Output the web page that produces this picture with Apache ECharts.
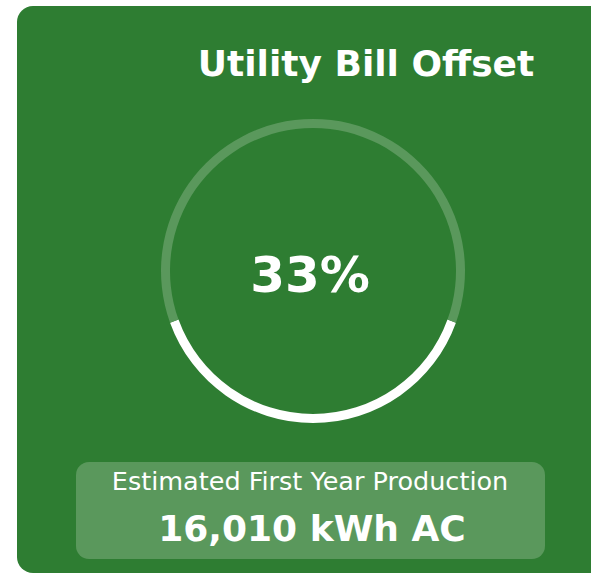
<!DOCTYPE html>
<html>
<head>
<meta charset="utf-8">
<script src="https://cdn.jsdelivr.net/npm/echarts@6/dist/echarts.min.js"></script>
<style>
html, body {
  margin: 0;
  padding: 0;
  background: #fff;
}
#chart {
  width: 591px;
  height: 574px;
}
</style>
</head>
<body>
<div id="chart"></div>
<script>
// data
var titleText = 'Utility Bill Offset'
var offsetPercent = [33]
var productionLabel = 'Estimated First Year Production'
var productionValue = [16010]
var productionUnit = 'kWh AC'

var green = '#2e7d32'
var light = '#5a985c'

var p = offsetPercent[0] / 100
// fill level: arc covers the part of the ring below p of its height
var halfArc = Math.acos(1 - 2 * p) * 180 / Math.PI
var arcDeg = halfArc * 2

var chart = echarts.init(document.getElementById('chart'), null, { renderer: 'svg' })

chart.setOption({
  backgroundColor: '#fff',
  animation: false,
  title: {
    text: titleText,
    left: 366,
    top: 45,
    textAlign: 'center',
    padding: 0,
    textStyle: {
      color: '#fff',
      fontFamily: 'DejaVu Sans',
      fontWeight: 'bold',
      fontSize: 36
    }
  },
  graphic: [
    {
      type: 'rect',
      z: -10,
      shape: { x: 17, y: 6, width: 700, height: 567, r: 16 },
      style: { fill: green }
    },
    {
      type: 'rect',
      z: -5,
      shape: { x: 76, y: 462, width: 469, height: 97, r: 13 },
      style: { fill: light }
    },
    {
      type: 'text',
      x: 310,
      y: 275,
      style: {
        text: offsetPercent[0] + '%',
        fill: '#fff',
        font: 'bold 50px "DejaVu Sans"',
        align: 'center',
        verticalAlign: 'middle'
      }
    },
    {
      type: 'text',
      x: 310,
      y: 481,
      style: {
        text: productionLabel,
        fill: '#fff',
        font: '25.5px "DejaVu Sans"',
        align: 'center',
        verticalAlign: 'middle'
      }
    },
    {
      type: 'text',
      x: 312,
      y: 528,
      style: {
        text: productionValue[0].toLocaleString('en-US') + ' ' + productionUnit,
        fill: '#fff',
        font: 'bold 36px "DejaVu Sans"',
        align: 'center',
        verticalAlign: 'middle'
      }
    }
  ],
  series: [
    {
      type: 'pie',
      center: [313, 271],
      radius: [143, 152],
      startAngle: halfArc - 90,
      clockwise: true,
      silent: true,
      label: { show: false },
      labelLine: { show: false },
      itemStyle: { borderWidth: 0 },
      data: [
        { value: arcDeg, itemStyle: { color: '#fff' } },
        { value: 360 - arcDeg, itemStyle: { color: light } }
      ]
    }
  ]
})
</script>
</body>
</html>
